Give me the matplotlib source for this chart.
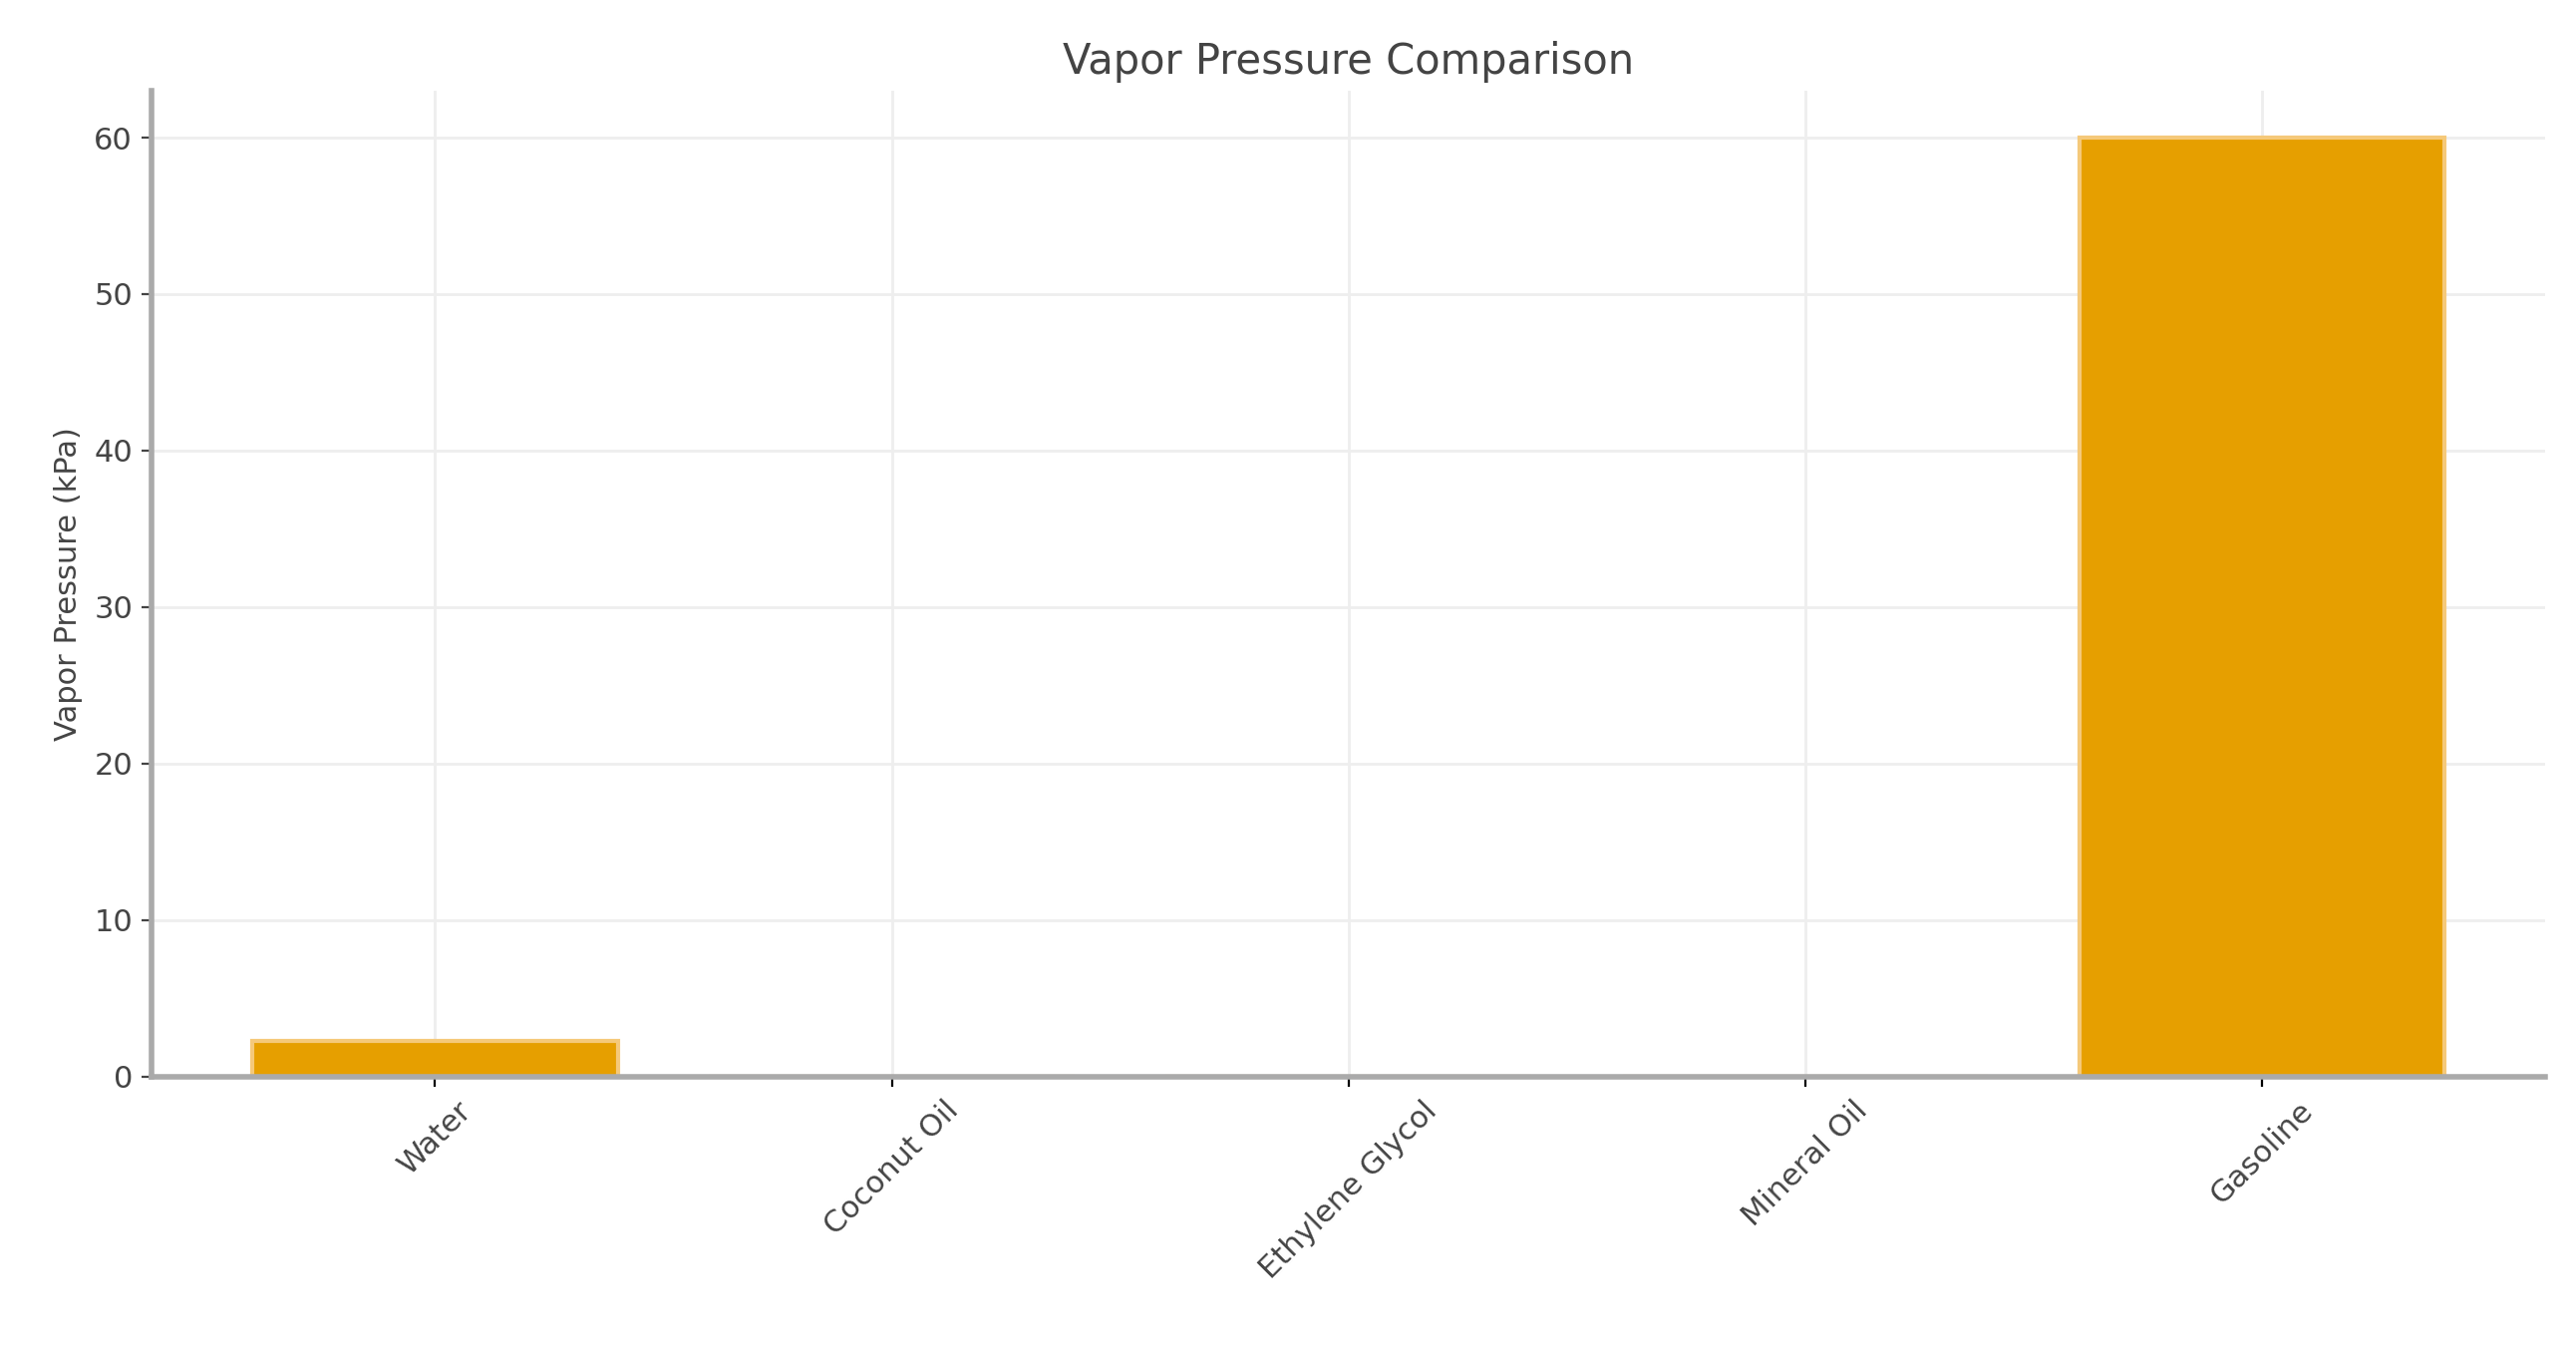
import numpy as np
from matplotlib import pyplot as plt

substances = ["Water", "Coconut Oil", "Ethylene Glycol", "Mineral Oil", "Gasoline"]
vapor_kpa = [2.3, 0.001, 0.007, 0.001, 60.0]

plt.rcParams['font.family'] = ['DejaVu Sans']
fig, ax = plt.subplots(figsize=(12.92, 6.79), dpi=200)
fig.subplots_adjust(left=0.059, right=0.988, top=0.933, bottom=0.205)

x = np.arange(len(substances))
ax.bar(x, vapor_kpa, width=0.8, color="#E69F00", edgecolor="#F5C97A", linewidth=1.5, zorder=2)

ax.set_xticks(x)
ax.set_xticklabels(substances, rotation=45, fontsize=11, color="#444444")
ax.tick_params(axis='y', labelsize=11, colors="#444444")
ax.set_ylim(0, 63)
ax.set_xlim(-0.62, 4.62)
ax.set_ylabel("Vapor Pressure (kPa)", fontsize=11, color="#444444")
ax.set_title("Vapor Pressure Comparison", fontsize=15, color="#444444")
ax.grid(True, color="#eeeeee", linewidth=1, zorder=0)
for side in ["top", "right"]:
    ax.spines[side].set_visible(False)
for side in ["left", "bottom"]:
    ax.spines[side].set_color("#aaaaaa")
    ax.spines[side].set_linewidth(2)

fig.savefig("out.png")
